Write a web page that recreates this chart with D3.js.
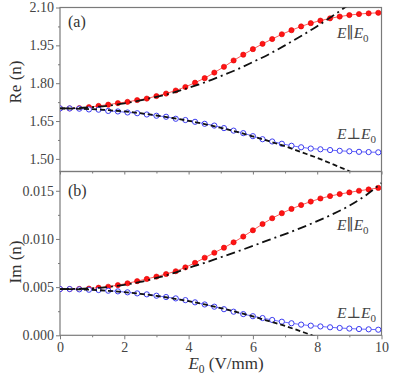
<!DOCTYPE html>
<html><head><meta charset="utf-8">
<script src="https://cdn.jsdelivr.net/npm/d3@7"></script>
<style>body{margin:0;background:#fff}svg{display:block}</style>
</head><body><svg id="c" width="400" height="377"></svg>
<script>
// ---- data ----
const xPts = [0,0.3,0.6,0.9,1.2,1.5,1.8,2.1,2.4,2.7,3.0,3.3,3.6,3.9,4.2,4.5,4.8,5.1,5.4,5.7,6.0,6.3,6.6,6.9,7.2,7.5,7.8,8.1,8.4,8.7,9.0,9.3,9.6,9.9];
const reParallel = [1.700,1.700,1.701,1.705,1.710,1.715,1.721,1.726,1.733,1.739,1.749,1.759,1.771,1.785,1.802,1.820,1.842,1.865,1.890,1.913,1.935,1.956,1.975,1.994,2.010,2.025,2.038,2.048,2.057,2.064,2.070,2.074,2.077,2.079];
const rePerp = [1.700,1.700,1.699,1.696,1.695,1.690,1.688,1.684,1.681,1.676,1.671,1.667,1.659,1.654,1.647,1.639,1.632,1.622,1.612,1.602,1.590,1.578,1.569,1.560,1.552,1.546,1.541,1.538,1.535,1.532,1.530,1.528,1.527,1.526];
const imParallel = [0.00480,0.00480,0.00481,0.00485,0.00494,0.00504,0.00521,0.00540,0.00562,0.00585,0.00609,0.00636,0.00665,0.00705,0.00752,0.00805,0.00857,0.00909,0.00965,0.01025,0.01090,0.01155,0.01215,0.01267,0.01312,0.01352,0.01388,0.01420,0.01445,0.01466,0.01483,0.01500,0.01514,0.01530];
const imPerp = [0.00480,0.00480,0.00477,0.00473,0.00470,0.00463,0.00456,0.00446,0.00435,0.00425,0.00411,0.00397,0.00383,0.00365,0.00342,0.00320,0.00297,0.00271,0.00245,0.00220,0.00198,0.00179,0.00159,0.00141,0.00125,0.00111,0.00100,0.00092,0.00083,0.00076,0.00070,0.00065,0.00062,0.00058];
const xApprox = [0,0.5,1,1.5,2,2.5,3,3.5,4,4.5,5,5.5,6,6.5,7,7.5,8,8.5,9,9.5,10];
const reParApprox = [1.700,1.701,1.705,1.711,1.720,1.732,1.746,1.762,1.782,1.803,1.828,1.854,1.884,1.915,1.950,1.987,2.026,2.068,2.113,2.160,2.210];
const rePerpApprox = [1.700,1.699,1.697,1.693,1.688,1.681,1.672,1.662,1.651,1.638,1.623,1.607,1.589,1.570,1.550,1.527,1.504,1.478,1.451,1.423,1.393];
const imParApprox = [0.00480,0.00482,0.00488,0.00502,0.00524,0.00554,0.00595,0.00642,0.00700,0.00752,0.00810,0.00868,0.00928,0.00990,0.01050,0.01115,0.01185,0.01260,0.01345,0.01450,0.01580];
const imPerpApprox = [0.00480,0.00478,0.00472,0.00462,0.00448,0.00431,0.00409,0.00383,0.00354,0.00320,0.00283,0.00241,0.00196,0.00147,0.00097,0.00040,-0.00020,-0.00090,-0.00160,-0.00230,-0.00310];
const xTicks = [0,2,4,6,8,10];
const reTicks = [1.50,1.65,1.80,1.95,2.10];
const imTicks = [0.000,0.005,0.010,0.015];

// ---- layout ----
const FONT = "'Liberation Serif', 'DejaVu Serif', serif";
const svg = d3.select("#c");
const L = 60, R = 381.5, T = 7.5, M = 171.5, B = 335.3;
const x = d3.scaleLinear().domain([0,10]).range([L,R]);
const yRe = d3.scaleLinear().domain([1.45,2.10]).range([M,T]);
const yIm = d3.scaleLinear().domain([0,0.017]).range([B,M]);
const axisCol = "#7a7a7a", textCol = "#444";

function panel(id, y, top, bot, ticks, fmt, par, perp, parA, perpA, label, labY, yTitle, titleY, parLabY, perpLabY, showXLabels){
  const g = svg.append("g");
  g.append("clipPath").attr("id", id).append("rect").attr("x", L).attr("y", top).attr("width", R-L).attr("height", bot-top);
  const ya = d3.axisLeft(y).tickValues(ticks).tickFormat(fmt).tickSize(4).tickSizeOuter(0);
  const ga = g.append("g").attr("transform", `translate(${L},0)`).call(ya);
  ga.attr("font-family", null);
  ga.select(".domain").remove();
  ga.selectAll("line").attr("stroke", axisCol);
  ga.selectAll("text").attr("fill", textCol).style("font-family", FONT).style("font-size","14px").attr("x",-6);
  const step = ticks[1]-ticks[0];
  const minors = [];
  for (let i=0;i<ticks.length-1;i++) minors.push(ticks[i]+step/2);
  if (y.domain()[1] > ticks[ticks.length-1]+step/2 - 1e-9) minors.push(ticks[ticks.length-1]+step/2);
  const gm = g.append("g").attr("transform", `translate(${L},0)`).call(d3.axisLeft(y).tickValues(minors).tickFormat("").tickSize(2).tickSizeOuter(0));
  gm.select(".domain").remove(); gm.selectAll("line").attr("stroke", axisCol);
  const xa = d3.axisBottom(x).tickValues(d3.range(0,11,1)).tickFormat(d => (showXLabels && d%2===0) ? String(d) : "").tickSizeOuter(0);
  const gx = g.append("g").attr("transform", `translate(0,${bot})`).call(xa);
  gx.attr("font-family", null);
  gx.select(".domain").remove();
  gx.selectAll(".tick line").attr("stroke", axisCol).attr("y2", d => showXLabels ? (d%2===0?4:2) : (d%2===0?3:2));
  gx.selectAll("text").attr("fill", textCol).style("font-family", FONT).style("font-size","14px").attr("y", 7);
  g.append("rect").attr("x", L).attr("y", top).attr("width", R-L).attr("height", bot-top).attr("fill","none").attr("stroke", axisCol).attr("stroke-width",1.2);
  const c = g.append("g").attr("clip-path", `url(#${id})`);
  const line = d3.line().x((d,i)=>x(xPts[i])).y(d=>y(d));
  const lineA = d3.line().x((d,i)=>x(xApprox[i])).y(d=>y(d)).curve(d3.curveMonotoneX);
  c.append("path").attr("d", line(par)).attr("fill","none").attr("stroke","#ff5a5a").attr("stroke-width",1);
  c.append("path").attr("d", line(perp)).attr("fill","none").attr("stroke","#6a6aff").attr("stroke-width",1);
  c.selectAll(".pr").data(par).join("circle").attr("cx",(d,i)=>x(xPts[i])).attr("cy",d=>y(d)).attr("r",2.6).attr("fill","#ff1414").attr("stroke","#e00000").attr("stroke-width",0.6);
  c.selectAll(".pb").data(perp).join("circle").attr("cx",(d,i)=>x(xPts[i])).attr("cy",d=>y(d)).attr("r",2.6).attr("fill","#fff").attr("stroke","#3c3cf0").attr("stroke-width",1);
  c.append("path").attr("d", lineA(parA)).attr("fill","none").attr("stroke","#111").attr("stroke-width",1.8).attr("stroke-dasharray","9,4,2,4");
  c.append("path").attr("d", lineA(perpA)).attr("fill","none").attr("stroke","#111").attr("stroke-width",1.8).attr("stroke-dasharray","5,3");
  g.append("text").attr("x",68).attr("y",labY).text(label).attr("fill","#333").style("font-family", FONT).style("font-size","16px");
  g.append("text").attr("transform",`translate(21,${titleY}) rotate(-90)`).attr("text-anchor","middle").attr("fill","#333").style("font-family", FONT).style("font-size","17px").text(yTitle);
  function leg(yy, sym){
    const t = g.append("text").attr("x",337).attr("y",yy).attr("fill","#444").style("font-family", FONT).style("font-size","15.5px");
    t.append("tspan").style("font-style","italic").text("E");
    t.append("tspan").style("font-style","italic").text(sym);
    t.append("tspan").style("font-style","italic").text("E");
    t.append("tspan").attr("dy",4).style("font-size","11px").text("0");
  }
  leg(parLabY, "\u2225");
  leg(perpLabY, "\u22A5");
}
panel("cpA", yRe, T, M, reTicks, d3.format(".2f"), reParallel, rePerp, reParApprox, rePerpApprox, "(a)", 27, "Re (n)", 82, 38, 139, false);
panel("cpB", yIm, M, B, imTicks, d3.format(".3f"), imParallel, imPerp, imParApprox, imPerpApprox, "(b)", 196, "Im (n)", 262, 230, 318, true);

const xt = svg.append("text").attr("x", 226).attr("y", 369).attr("text-anchor","middle").attr("fill","#333").style("font-family", FONT).style("font-size","17px");
xt.append("tspan").style("font-style","italic").text("E");
xt.append("tspan").attr("dy",4).style("font-size","11.5px").text("0");
xt.append("tspan").attr("dy",-4).text(" (V/mm)");
</script></body></html>
